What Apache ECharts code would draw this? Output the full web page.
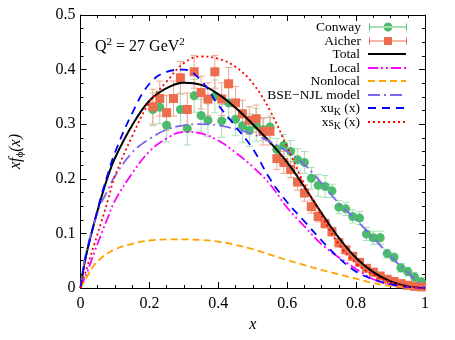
<!DOCTYPE html>
<html><head><meta charset="utf-8">
<script src="https://cdn.jsdelivr.net/npm/echarts@6/dist/echarts.min.js"></script>
<style>html,body{margin:0;padding:0;background:#fff}#c{width:455px;height:340px}</style>
</head><body><div id="c"></div>
<script>
// ---------- data ----------
const curveX = [0,0.01,0.02,0.04,0.06,0.08,0.10,0.15,0.20,0.25,0.30,0.35,0.40,0.45,0.50,0.55,0.60,0.65,0.70,0.75,0.80,0.85,0.90,0.95,1.0];
const totalY  = [0,0.04,0.07,0.12,0.165,0.205,0.238,0.298,0.343,0.366,0.376,0.372,0.355,0.33,0.30,0.267,0.23,0.185,0.137,0.092,0.055,0.029,0.012,0.003,0];
const localY  = [0,0.015,0.03,0.065,0.098,0.13,0.16,0.21,0.25,0.274,0.286,0.283,0.27,0.248,0.222,0.19,0.147,0.113,0.08,0.056,0.035,0.016,0.006,0.001,0];
const nonlocalY = [0,0.012,0.022,0.042,0.055,0.064,0.071,0.081,0.087,0.089,0.089,0.088,0.085,0.079,0.071,0.061,0.051,0.042,0.033,0.025,0.017,0.009,0.004,0.001,0];
const bseY    = [0,0.045,0.075,0.12,0.155,0.18,0.205,0.248,0.273,0.29,0.298,0.30,0.298,0.291,0.282,0.268,0.25,0.226,0.192,0.155,0.125,0.092,0.058,0.028,0];
const xuY     = [0,0.04,0.07,0.12,0.168,0.21,0.248,0.32,0.374,0.396,0.40,0.38,0.335,0.296,0.255,0.20,0.157,0.122,0.087,0.055,0.03,0.016,0.007,0.002,0];
const xsY     = [0,0.02,0.04,0.08,0.12,0.162,0.205,0.278,0.34,0.378,0.412,0.424,0.42,0.405,0.375,0.325,0.258,0.19,0.133,0.08,0.045,0.024,0.011,0.003,0];

const conwayX = [0.21,0.23,0.25,0.29,0.31,0.33,0.35,0.37,0.39,0.41,0.43,0.45,0.47,0.49,0.51,0.53,0.55,0.57,0.59,0.61,0.63,0.65,0.67,0.69,0.71,0.73,0.75,0.77,0.79,0.81,0.83,0.85,0.87,0.89,0.91,0.93,0.95,0.97,0.99];
const conwayY = [0.327,0.331,0.298,0.327,0.292,0.352,0.316,0.307,0.351,0.306,0.339,0.309,0.297,0.289,0.299,0.29,0.295,0.254,0.261,0.250,0.235,0.230,0.201,0.188,0.186,0.178,0.148,0.145,0.131,0.128,0.099,0.092,0.092,0.063,0.056,0.037,0.030,0.020,0.011];
const conwayE = [0.03,0.03,0.03,0.03,0.03,0.03,0.03,0.03,0.03,0.03,0.03,0.03,0.03,0.03,0.03,0.02,0.02,0.02,0.02,0.02,0.02,0.02,0.02,0.02,0.02,0.012,0.012,0.012,0.012,0.012,0.012,0.012,0.012,0.008,0.008,0.008,0.008,0.008,0.008];

const aicherX = [0.21,0.23,0.25,0.27,0.29,0.31,0.33,0.35,0.37,0.39,0.41,0.43,0.45,0.47,0.49,0.51,0.53,0.55,0.57,0.59,0.61,0.63,0.65,0.67,0.69,0.71,0.73,0.75,0.77,0.79,0.81,0.83,0.85,0.87,0.89,0.91,0.93,0.95,0.97,0.99];
const aicherY = [0.332,0.347,0.321,0.347,0.385,0.327,0.396,0.358,0.346,0.396,0.346,0.374,0.339,0.319,0.307,0.310,0.287,0.287,0.237,0.230,0.217,0.194,0.174,0.149,0.131,0.118,0.103,0.083,0.070,0.058,0.047,0.036,0.029,0.022,0.016,0.012,0.008,0.005,0.003,0.002];
const aicherE = [0.032,0.032,0.032,0.032,0.03,0.03,0.03,0.03,0.03,0.03,0.03,0.03,0.03,0.025,0.025,0.025,0.025,0.025,0.02,0.02,0.015,0.015,0.015,0.012,0.01,0.008,0.008,0.008,0.006,0.006,0.006,0.005,0.005,0.005,0.004,0.004,0.004,0.004,0.004,0.004];

const xTicks = [0,0.2,0.4,0.6,0.8,1];
const yTicks = [0,0.1,0.2,0.3,0.4,0.5];
const legendNames = ['Conway','Aicher','Total','Local','Nonlocal','BSE\u2212NJL model','xuK','xsK'];

// ---------- styling ----------
const SERIF = 'Liberation Serif';
const GREEN = '#4cbb6c', GREEN_ERR = '#a6dfb6';
const ORANGE = '#ec6c4c', ORANGE_ERR = '#f2a48f';

function pairs(xs, ys){ return xs.map((x,i)=>[x, ys[i]]); }
function errSeries(name, xs, ys, es, color){
  return {
    type:'custom', name, silent:true, clip:true, z:2,
    data: xs.map((x,i)=>[x, ys[i]-es[i], ys[i]+es[i]]),
    encode:{x:0, y:[1,2]},
    renderItem:(params, api)=>{
      const lo = api.coord([api.value(0), api.value(1)]);
      const hi = api.coord([api.value(0), api.value(2)]);
      const w = 3.5;
      const st = {stroke: color, lineWidth: 1};
      return {type:'group', children:[
        {type:'line', shape:{x1:lo[0],y1:lo[1],x2:hi[0],y2:hi[1]}, style:st},
        {type:'line', shape:{x1:lo[0]-w,y1:lo[1],x2:lo[0]+w,y2:lo[1]}, style:st},
        {type:'line', shape:{x1:hi[0]-w,y1:hi[1],x2:hi[0]+w,y2:hi[1]}, style:st}
      ]};
    }
  };
}
function lineSeries(name, ys, color, type, width){
  return {
    type:'line', name, data: pairs(curveX, ys), symbol:'none', showSymbol:false,
    smooth:0.4, z:4,
    lineStyle:{color, width: width||1.8, type},
    itemStyle:{color}
  };
}

const conwayIcon = 'path://M0,4.5L38,4.5L38,5.5L0,5.5Z M0,1.5L1,1.5L1,8.5L0,8.5Z M37,1.5L38,1.5L38,8.5L37,8.5Z M14.5,5A4.5,4.5 0 1,0 23.5,5A4.5,4.5 0 1,0 14.5,5Z';
const aicherIcon = 'path://M0,4.5L38,4.5L38,5.5L0,5.5Z M0,1.5L1,1.5L1,8.5L0,8.5Z M37,1.5L38,1.5L38,8.5L37,8.5Z M15,1L23,1L23,9L15,9Z';

const legendY = [28,42,55,69,82,96,109,123];
const legendRich = {
  sub:{fontSize:10, fontFamily:SERIF, color:'#000', padding:[8,0,0,0]}
};
function legendFmt(n){
  if(n==='xuK') return 'xu{sub|K} (x)';
  if(n==='xsK') return 'xs{sub|K} (x)';
  return n;
}
const legends = legendNames.map((n,i)=>{
  const item = {name:n};
  if(i===0) item.icon = conwayIcon;
  if(i===1) item.icon = aicherIcon;
  const lg = {
    data:[item], orient:'vertical', align:'right', right:48, top:legendY[i]-8,
    padding:0, itemGap:0, itemWidth:38, itemHeight:10, selectedMode:false,
    formatter: legendFmt,
    textStyle:{fontFamily:SERIF, fontSize:13.5, color:'#000', padding:[0,3,0,0], rich:legendRich}
  };
  if(i>=2) lg.itemStyle = {opacity:0};
  return lg;
});

const axisCommon = {
  type:'value', min:0,
  axisLine:{show:true, onZero:false, lineStyle:{color:'#000', width:1}},
  axisTick:{show:true, inside:true, length:6, lineStyle:{color:'#000', width:1}},
  minorTick:{show:true, splitNumber:4, length:3, lineStyle:{color:'#000', width:1}},
  splitLine:{show:false}, minorSplitLine:{show:false}
};

const option = {
  animation:false,
  backgroundColor:'#fff',
  grid:{left:79, right:30, top:15, bottom:52, containLabel:false},
  xAxis:[
    Object.assign({}, axisCommon, {position:'bottom', max:1, interval:0.2,
      axisLabel:{show:true, margin:8, color:'#000', fontFamily:SERIF, fontSize:16,
        formatter:v=>{const t = xTicks.find(k=>Math.abs(k-v)<1e-9); return t===undefined?'':String(t);}},
      name:'x', nameLocation:'middle', nameGap:28,
      nameTextStyle:{fontFamily:SERIF, fontStyle:'italic', fontSize:16, color:'#000'}}),
    Object.assign({}, axisCommon, {position:'top', max:1, interval:0.2, axisLabel:{show:false}})
  ],
  yAxis:[
    Object.assign({}, axisCommon, {position:'left', max:0.5, interval:0.1,
      axisLabel:{show:true, margin:5, color:'#000', fontFamily:SERIF, fontSize:16,
        formatter:v=>{const t = yTicks.find(k=>Math.abs(k-v)<1e-9); return t===undefined?'':String(t);}},
      name:'xf{sub|\u03d5}(x)', nameLocation:'middle', nameGap:55,
      nameTextStyle:{fontFamily:SERIF, fontStyle:'italic', fontSize:16, color:'#000',
        rich:{sub:{fontFamily:SERIF, fontStyle:'normal', fontSize:11, color:'#000', padding:[8,0,0,0]}}}}),
    Object.assign({}, axisCommon, {position:'right', max:0.5, interval:0.1, axisLabel:{show:false}})
  ],
  legend: legends,
  graphic:[{
    type:'text', left:95, top:37,
    style:{text:'Q{sup|2} = 27 GeV{sup|2}', fontFamily:SERIF, fontSize:16, fill:'#000',
      rich:{sup:{fontFamily:SERIF, fontSize:11, fill:'#000', padding:[0,0,8,0]}}}
  }],
  series:[
    errSeries('ConwayErr', conwayX, conwayY, conwayE, GREEN_ERR),
    {type:'scatter', name:'Conway', data:pairs(conwayX, conwayY), symbol:'circle', symbolSize:9, z:3,
      itemStyle:{color:GREEN, opacity:1}},
    errSeries('AicherErr', aicherX, aicherY, aicherE, ORANGE_ERR),
    {type:'scatter', name:'Aicher', data:pairs(aicherX, aicherY), symbol:'rect', symbolSize:9, z:3,
      itemStyle:{color:ORANGE, opacity:1}},
    lineSeries('Total', totalY, '#000000', 'solid', 2),
    lineSeries('Local', localY, '#ff00ff', [10,3,2,3,2,3]),
    lineSeries('Nonlocal', nonlocalY, '#ffa500', [7,4]),
    lineSeries('BSE\u2212NJL model', bseY, '#7b68ee', [12,4,2,4]),
    lineSeries('xuK', xuY, '#0000ff', [8,6]),
    lineSeries('xsK', xsY, '#ff0000', [2,3])
  ]
};
const chart = echarts.init(document.getElementById('c'), null, {renderer:'canvas'});
chart.setOption(option);
</script></body></html>
